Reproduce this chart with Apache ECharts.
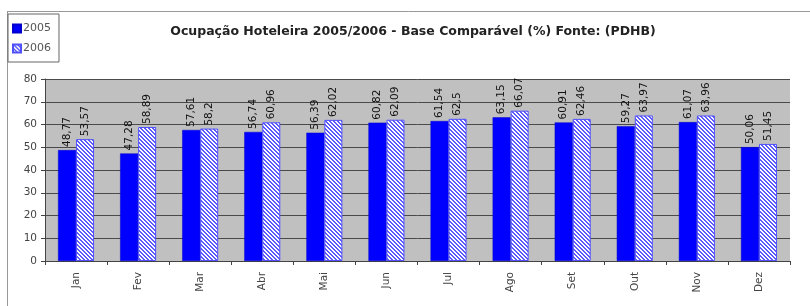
<!DOCTYPE html>
<html><head><meta charset="utf-8">
<script src="https://cdn.jsdelivr.net/npm/echarts@6/dist/echarts.min.js"></script>
<style>html,body{margin:0;padding:0;background:#fff}#c{width:810px;height:306px}</style>
</head><body><div id="c"></div>
<script>
const categories = ['Jan','Fev','Mar','Abr','Mai','Jun','Jul','Ago','Set','Out','Nov','Dez'];
const seriesNames = ['2005','2006'];
const values2005 = [48.77,47.28,57.61,56.74,56.39,60.82,61.54,63.15,60.91,59.27,61.07,50.06];
const values2006 = [53.57,58.89,58.2,60.96,62.02,62.09,62.5,66.07,62.46,63.97,63.96,51.45];
const yTicks = [0,10,20,30,40,50,60,70,80];
const titleText = 'Ocupação Hoteleira 2005/2006 - Base Comparável (%) Fonte: (PDHB)';

function hatch(){
  const cv = document.createElement('canvas');
  cv.width = 4; cv.height = 4;
  const ctx = cv.getContext('2d');
  ctx.fillStyle = '#ffffff'; ctx.fillRect(0,0,4,4);
  ctx.fillStyle = '#5a5aff';
  for (let y=0;y<4;y++) for (let x=0;x<4;x++){
    const d = ((x - y) % 4 + 4) % 4;
    if (d===0 || d===1) ctx.fillRect(x,y,1,1);
  }
  return cv;
}
const pat = {image: hatch(), repeat: 'repeat'};
const fmt = p => String(p.value).replace('.', ',');
const font = '"DejaVu Sans", Verdana, sans-serif';
const chart = echarts.init(document.getElementById('c'), null, {renderer:'canvas'});
chart.setOption({
  animation:false,
  backgroundColor:'#fff',
  textStyle:{fontFamily:font},
  title:{text:titleText,left:408,textAlign:'center',top:20,textStyle:{fontSize:12.5,fontWeight:'bold',color:'#222',fontFamily:font}},
  legend:{orient:'vertical',left:8,top:14,data:seriesNames,itemWidth:8,itemHeight:8,itemGap:9,padding:[9,8,8,4],
    borderColor:'#666',borderWidth:1,textStyle:{fontSize:11,color:'#555',padding:[0,0,0,-3]},icon:'rect'},
  graphic:[
    {type:'line',shape:{x1:7,y1:11.5,x2:810,y2:11.5},style:{stroke:'#999',lineWidth:1}},
    {type:'line',shape:{x1:7.5,y1:11,x2:7.5,y2:306},style:{stroke:'#999',lineWidth:1}}
  ],
  grid:{left:45,right:20,top:79,height:182,show:true,backgroundColor:'#c0c0c0',borderWidth:0},
  xAxis:{type:'category',data:categories,
    axisLine:{lineStyle:{color:'#444'}},
    axisTick:{show:true,length:4,lineStyle:{color:'#444'}},
    axisLabel:{rotate:90,fontSize:10.5,color:'#444',margin:11}},
  yAxis:{type:'value',min:yTicks[0],max:yTicks[yTicks.length-1],interval:10,
    axisLine:{show:true,lineStyle:{color:'#444'}},
    axisTick:{show:true,length:4,lineStyle:{color:'#444'}},
    axisLabel:{fontSize:10.5,color:'#444',margin:8},
    splitLine:{lineStyle:{color:'#4a4a4a',width:1}}},
  series:[
    {name:seriesNames[0],type:'bar',data:values2005,barWidth:18,barGap:'0%',
     itemStyle:{color:'#0000ff',borderColor:'#0000cc',borderWidth:0.5},
     label:{show:true,position:'top',rotate:90,align:'left',verticalAlign:'middle',distance:3,formatter:fmt,fontSize:10.5,color:'#111'}},
    {name:seriesNames[1],type:'bar',data:values2006,barWidth:18,
     itemStyle:{color:pat,borderColor:'#5050ff',borderWidth:1},
     label:{show:true,position:'top',rotate:90,align:'left',verticalAlign:'middle',distance:3,formatter:fmt,fontSize:10.5,color:'#111'}}
  ]
});
</script></body></html>
